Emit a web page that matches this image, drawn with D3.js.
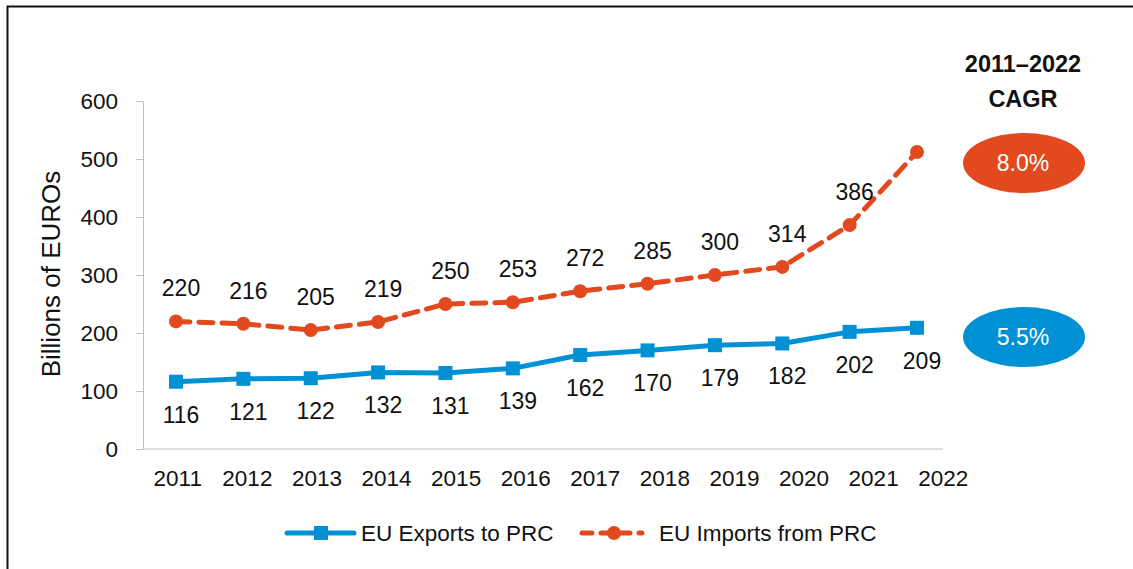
<!DOCTYPE html>
<html>
<head>
<meta charset="utf-8">
<script src="https://cdn.jsdelivr.net/npm/d3@7"></script>
<style>
  body { margin: 0; background: #fff; }
  text { font-family: "Liberation Sans", Arial, sans-serif; }
</style>
</head>
<body>
<script>
const width = 1133;
const height = 569;

const years = ["2011","2012","2013","2014","2015","2016","2017","2018","2019","2020","2021","2022"];
const exportsVals = [116, 121, 122, 132, 131, 139, 162, 170, 179, 182, 202, 209];
const importsVals = [220, 216, 205, 219, 250, 253, 272, 285, 300, 314, 386, 512];
const importLabels = ["220","216","205","219","250","253","272","285","300","314","386",""];
const exportLabels = ["116","121","122","132","131","139","162","170","179","182","202","209"];
const yTicks = [0, 100, 200, 300, 400, 500, 600];
const cagrVals = ["8.0%", "5.5%"];

const blue = "#0091d5";
const orange = "#e2491f";

const svg = d3.select("body").append("svg")
    .attr("width", width)
    .attr("height", height);

// frame (left + top only, the picture is cropped)
svg.append("path")
    .attr("d", `M7.5,${height} V6.5 H${width}`)
    .attr("fill", "none")
    .attr("stroke", "#111")
    .attr("stroke-width", 2);

const yScale = d3.scaleLinear().domain([0, 600]).range([449, 101]);
// category labels spread over the full axis band
const xLabel = d3.scaleBand().domain(years).range([143, 978]);
// the series sit on a slightly narrower span
const xData = d3.scalePoint().domain(years).range([176, 917]);

// y axis
const yAxis = svg.append("g")
    .attr("transform", "translate(143,0)")
    .call(d3.axisLeft(yScale).tickValues(yTicks).tickSize(7).tickPadding(18).tickSizeOuter(0));
yAxis.select(".domain").attr("stroke", "#bfbfbf");
yAxis.selectAll(".tick line").attr("stroke", "#bfbfbf");
yAxis.selectAll(".tick text")
    .attr("font-size", 22.5)
    .attr("fill", "#111")
    .style("font-family", "Liberation Sans, Arial, sans-serif");

// x axis line
svg.append("line")
    .attr("x1", 143).attr("x2", 943)
    .attr("y1", 449).attr("y2", 449)
    .attr("stroke", "#bfbfbf");

svg.append("g").selectAll("text")
    .data(years)
    .join("text")
    .attr("x", d => xLabel(d) + xLabel.bandwidth() / 2)
    .attr("y", 486)
    .attr("text-anchor", "middle")
    .attr("font-size", 22.5)
    .attr("fill", "#111")
    .text(d => d);

// y title
svg.append("text")
    .attr("transform", "translate(60,274) rotate(-90)")
    .attr("text-anchor", "middle")
    .attr("font-size", 26)
    .attr("fill", "#111")
    .text("Billions of EUROs");

const line = d3.line()
    .x((d, i) => xData(years[i]))
    .y(d => yScale(d));

// exports
svg.append("path")
    .datum(exportsVals)
    .attr("d", line)
    .attr("fill", "none")
    .attr("stroke", blue)
    .attr("stroke-width", 5)
    .attr("stroke-linejoin", "round");

svg.append("g").selectAll("rect")
    .data(exportsVals)
    .join("rect")
    .attr("x", (d, i) => xData(years[i]) - 7)
    .attr("y", d => yScale(d) - 7)
    .attr("width", 14)
    .attr("height", 14)
    .attr("fill", blue);

// imports
svg.append("path")
    .datum(importsVals)
    .attr("d", line)
    .attr("fill", "none")
    .attr("stroke", orange)
    .attr("stroke-width", 5)
    .attr("stroke-dasharray", "14,9")
    .attr("stroke-linecap", "round");

svg.append("g").selectAll("circle")
    .data(importsVals)
    .join("circle")
    .attr("cx", (d, i) => xData(years[i]))
    .attr("cy", d => yScale(d))
    .attr("r", 7)
    .attr("fill", orange);

// data labels
svg.append("g").selectAll("text")
    .data(importsVals)
    .join("text")
    .attr("x", (d, i) => xData(years[i]) + 5)
    .attr("y", d => yScale(d) - 25)
    .attr("text-anchor", "middle")
    .attr("font-size", 23)
    .attr("fill", "#111")
    .text((d, i) => importLabels[i]);

svg.append("g").selectAll("text")
    .data(exportsVals)
    .join("text")
    .attr("x", (d, i) => xData(years[i]) + 5)
    .attr("y", d => yScale(d) + 41)
    .attr("text-anchor", "middle")
    .attr("font-size", 23)
    .attr("fill", "#111")
    .text((d, i) => exportLabels[i]);

// CAGR side panel
svg.append("text")
    .attr("x", 1023).attr("y", 72)
    .attr("text-anchor", "middle")
    .attr("font-size", 23.5)
    .attr("font-weight", "bold")
    .attr("fill", "#111")
    .text("2011\u20132022");
svg.append("text")
    .attr("x", 1023).attr("y", 107)
    .attr("text-anchor", "middle")
    .attr("font-size", 23.5)
    .attr("font-weight", "bold")
    .attr("fill", "#111")
    .text("CAGR");

const bubbles = [
    { cy: 163, color: orange, label: cagrVals[0] },
    { cy: 337, color: blue, label: cagrVals[1] }
];
const bub = svg.append("g").selectAll("g")
    .data(bubbles)
    .join("g");
bub.append("ellipse")
    .attr("cx", 1024)
    .attr("cy", d => d.cy)
    .attr("rx", 61)
    .attr("ry", 30)
    .attr("fill", d => d.color);
bub.append("text")
    .attr("x", 1023)
    .attr("y", d => d.cy + 8)
    .attr("text-anchor", "middle")
    .attr("font-size", 23)
    .attr("fill", "#fff")
    .text(d => d.label);

// legend
const legend = svg.append("g");
legend.append("line")
    .attr("x1", 287).attr("x2", 354)
    .attr("y1", 533).attr("y2", 533)
    .attr("stroke", blue).attr("stroke-width", 5)
    .attr("stroke-linecap", "round");
legend.append("rect")
    .attr("x", 314).attr("y", 526)
    .attr("width", 14).attr("height", 14)
    .attr("fill", blue);
legend.append("text")
    .attr("x", 361).attr("y", 541)
    .attr("font-size", 22.5)
    .attr("fill", "#111")
    .text("EU Exports to PRC");

legend.append("line")
    .attr("x1", 582).attr("x2", 642)
    .attr("y1", 533).attr("y2", 533)
    .attr("stroke", orange).attr("stroke-width", 5)
    .attr("stroke-dasharray", "10,9")
    .attr("stroke-linecap", "round");
legend.append("circle")
    .attr("cx", 614).attr("cy", 533)
    .attr("r", 7)
    .attr("fill", orange);
legend.append("text")
    .attr("x", 659).attr("y", 541)
    .attr("font-size", 22.5)
    .attr("fill", "#111")
    .text("EU Imports from PRC");
</script>
</body>
</html>
